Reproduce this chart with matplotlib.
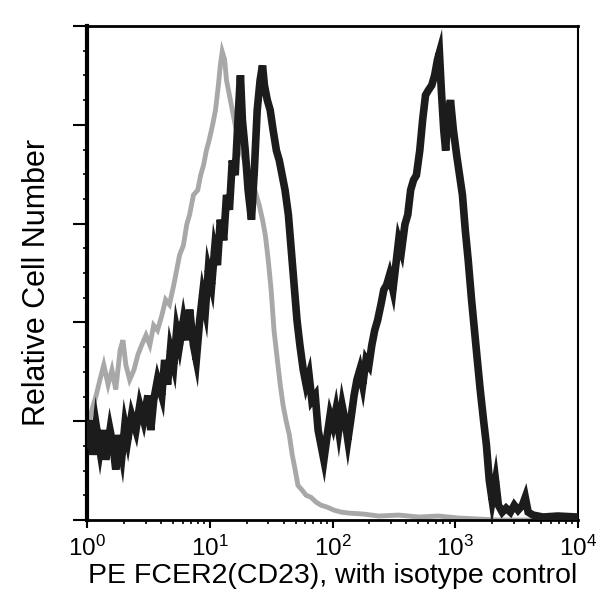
import numpy as np
import matplotlib
matplotlib.use("Agg")
import matplotlib.pyplot as plt
from matplotlib.ticker import FixedLocator, MultipleLocator, NullFormatter, LogLocator

plt.rcParams['font.family'] = ['Liberation Sans', 'DejaVu Sans']
plt.rcParams['mathtext.fontset'] = 'custom'
plt.rcParams['mathtext.rm'] = 'Liberation Sans'
plt.rcParams['mathtext.it'] = 'Liberation Sans'

# histogram data: (channel out of 1024 over 4 decades, cell count)
sample_hist = [
    (0, 76), (6, 101), (12, 66), (19, 96), (27, 71), (33, 91), (39, 61), (48, 91),
    (54, 76), (60, 51), (66, 86), (73, 66), (79, 96), (85, 81), (93, 106), (102, 91),
    (110, 116), (118, 101), (127, 126), (133, 91), (139, 121), (147, 142), (156, 126),
    (162, 162), (168, 137), (174, 172), (181, 157), (187, 192), (193, 177), (201, 202),
    (208, 182), (214, 213), (222, 177), (228, 162), (235, 202), (241, 228), (247, 213),
    (253, 253), (260, 238), (266, 273), (272, 258), (278, 304), (285, 283), (291, 329),
    (297, 314), (303, 364), (309, 349), (316, 415), (320, 450), (324, 405), (330, 374),
    (336, 334), (343, 304), (349, 354), (355, 415), (361, 445), (366, 460), (370, 440),
    (376, 425), (382, 415), (388, 395), (395, 374), (401, 364), (407, 349), (413, 334),
    (420, 309), (426, 273), (432, 238), (438, 202), (444, 177), (451, 152), (457, 137),
    (463, 147), (469, 121), (476, 126), (482, 91), (488, 76), (494, 61), (501, 86),
    (507, 106), (513, 96), (519, 111), (525, 91), (532, 116), (538, 101), (544, 81),
    (550, 101), (557, 126), (563, 142), (569, 152), (575, 137), (582, 162), (588, 157),
    (594, 177), (600, 192), (606, 202), (613, 218), (619, 233), (625, 238), (631, 248),
    (638, 233), (644, 258), (650, 283), (656, 273), (663, 299), (669, 309), (675, 334),
    (681, 344), (687, 349), (694, 374), (700, 405), (706, 430), (712, 435), (719, 440),
    (725, 450), (731, 466), (735, 473), (739, 435), (744, 395), (748, 374), (752, 405),
    (758, 425), (764, 395), (771, 369), (777, 349), (783, 329), (789, 293), (795, 263),
    (802, 223), (808, 192), (814, 162), (820, 132), (827, 101), (833, 76), (839, 40),
    (845, 20), (852, 40), (858, 15), (866, 8), (874, 12), (883, 8), (891, 15),
    (899, 10), (908, 15), (914, 23), (920, 8), (930, 5), (951, 3), (982, 4), (1023, 3),
]

isotype_hist = [
    (2, 91), (10, 111), (19, 126), (27, 142), (35, 157), (44, 137), (52, 152), (60, 132),
    (69, 172), (75, 182), (81, 157), (89, 142), (98, 152), (106, 167), (114, 177),
    (123, 187), (131, 177), (139, 197), (147, 192), (156, 207), (164, 223), (172, 218),
    (181, 238), (187, 253), (193, 268), (201, 278), (208, 299), (214, 309), (222, 329),
    (231, 334), (237, 349), (243, 359), (249, 374), (255, 385), (262, 400), (268, 415),
    (274, 440), (278, 460), (282, 474), (287, 466), (291, 445), (297, 430), (303, 415),
    (309, 400), (316, 385), (322, 374), (328, 364), (334, 349), (341, 344), (347, 339),
    (353, 329), (359, 319), (366, 304), (372, 288), (378, 263), (384, 233), (390, 192),
    (397, 162), (403, 137), (409, 116), (415, 101), (422, 86), (428, 66), (434, 51),
    (440, 35), (449, 30), (457, 25), (467, 23), (478, 18), (488, 15), (501, 13),
    (515, 10), (530, 8), (546, 7), (577, 6), (609, 4), (650, 5), (692, 3), (733, 4),
    (775, 2), (816, 1), (858, 0), (941, 0), (1023, 0),
]

xtick_values = [1, 10, 100, 1000, 10000]
xtick_labels = [r'$\mathregular{10^{0}}$', r'$\mathregular{10^{1}}$', r'$\mathregular{10^{2}}$',
                r'$\mathregular{10^{3}}$', r'$\mathregular{10^{4}}$']
x_label = "PE FCER2(CD23), with isotype control"
y_label = "Relative Cell Number"

CHANNELS_PER_DECADE = 256.0

fig = plt.figure(figsize=(6, 6), dpi=100)
ax = fig.add_axes([87/600, 80/600, (578-87)/600, (520-26)/600])

iso_ch, iso_ct = zip(*isotype_hist)
smp_ch, smp_ct = zip(*sample_hist)
iso_x = 10 ** (np.array(iso_ch) / CHANNELS_PER_DECADE)
smp_x = 10 ** (np.array(smp_ch) / CHANNELS_PER_DECADE)

ax.plot(iso_x, iso_ct, color='#a8a8a8', lw=3.5, solid_joinstyle='miter', zorder=2)
ax.plot(smp_x, smp_ct, color='#1c1c1c', lw=5.5, solid_joinstyle='miter', zorder=3)

ax.set_xscale('log')
ax.set_xlim(1, 1e4)
ax.set_ylim(0, 500)

ax.xaxis.set_major_locator(FixedLocator(xtick_values))
ax.set_xticklabels(xtick_labels)
ax.xaxis.set_minor_locator(LogLocator(base=10, subs=np.arange(2, 10)))
ax.xaxis.set_minor_formatter(NullFormatter())
ax.yaxis.set_major_locator(MultipleLocator(100))
ax.yaxis.set_minor_locator(MultipleLocator(25))
ax.yaxis.set_major_formatter(NullFormatter())

ax.tick_params(axis='x', which='major', direction='out', length=6, width=1.5,
               labelsize=17.5, pad=5, colors='black')
ax.tick_params(axis='x', which='minor', direction='out', length=3, width=1.2)
ax.tick_params(axis='y', which='major', direction='out', length=10, width=1.5)
ax.tick_params(axis='y', which='minor', direction='out', length=3, width=1.2)

ax.spines['left'].set_linewidth(3)
ax.spines['bottom'].set_linewidth(2)
ax.spines['top'].set_linewidth(2)
ax.spines['right'].set_linewidth(1.5)

ax.set_xlabel(x_label, fontsize=20.5, labelpad=2)
ax.set_ylabel(y_label, fontsize=22)
ax.yaxis.set_label_coords(-0.072, 0.48)

fig.savefig('out.png', dpi=100, facecolor='white')
